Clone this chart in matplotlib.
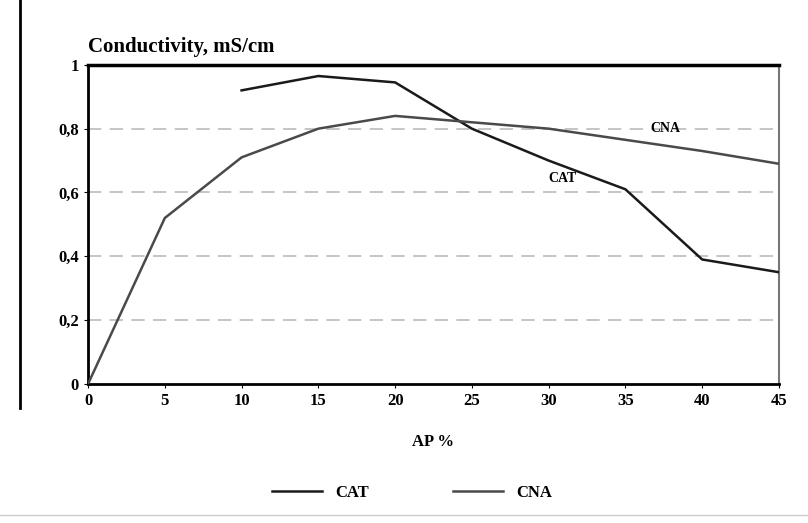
import matplotlib
matplotlib.use("Agg")
import matplotlib.pyplot as plt
from matplotlib.lines import Line2D

plt.rcParams['font.family'] = ['Liberation Serif', 'DejaVu Serif']

# data
x_cna = [0, 5, 10, 15, 20, 25, 30, 35, 40, 45]
y_cna = [0, 0.52, 0.71, 0.80, 0.84, 0.82, 0.80, 0.765, 0.73, 0.69]
x_cat = [10, 15, 20, 25, 30, 35, 40, 45]
y_cat = [0.92, 0.965, 0.945, 0.80, 0.70, 0.61, 0.39, 0.35]

xticks = [0, 5, 10, 15, 20, 25, 30, 35, 40, 45]
yticks = [0, 0.2, 0.4, 0.6, 0.8, 1]
ytick_labels = ['0', '0,2', '0,4', '0,6', '0,8', '1']

fig = plt.figure(figsize=(8.08, 5.23), dpi=100)
ax = fig.add_axes([0.109, 0.266, 0.855, 0.61])

for yv in yticks[1:-1]:
    ax.axhline(yv, color='#bbbbbb', lw=1.2, ls=(0, (8, 5)), zorder=1)

l_cat, = ax.plot(x_cat, y_cat, color='#1a1a1a', lw=1.8, zorder=3)
l_cna, = ax.plot(x_cna, y_cna, color='#4a4a4a', lw=1.8, zorder=3)

ax.text(37.6, 0.80, 'CNA', fontsize=10, fontweight='bold', ha='center', va='center', zorder=4)
ax.text(30.9, 0.645, 'CAT', fontsize=10, fontweight='bold', ha='center', va='center', zorder=4)

ax.set_xlim(0, 45)
ax.set_ylim(0, 1)
ax.set_xticks(xticks)
ax.set_yticks(yticks)
ax.set_yticklabels(ytick_labels)
ax.tick_params(labelsize=12, length=3, direction='out')
for lab in ax.get_xticklabels() + ax.get_yticklabels():
    lab.set_fontweight('bold')

for side in ['left', 'bottom']:
    ax.spines[side].set_color('black')
    ax.spines[side].set_linewidth(2)
ax.spines['top'].set_color('black')
ax.spines['top'].set_linewidth(2.5)
ax.spines['right'].set_color('#777777')
ax.spines['right'].set_linewidth(1.5)

ax.set_xlabel('AP %', fontsize=12, fontweight='bold', labelpad=18)
ax.text(0, 1.025, 'Conductivity, mS/cm', transform=ax.transAxes,
        fontsize=15, fontweight='bold', ha='left', va='bottom')

fig.legend([l_cat, l_cna], ['CAT', 'CNA'], loc='center', ncol=2,
           bbox_to_anchor=(0.51, 0.057), frameon=False,
           prop={'size': 12, 'weight': 'bold'},
           handlelength=3, columnspacing=5)

# outer border pieces of the original figure
fig.add_artist(Line2D([0.025, 0.025], [0.22, 1.0], color='black', lw=2,
                      transform=fig.transFigure))
fig.add_artist(Line2D([0.0, 1.0], [0.015, 0.015], color='#cccccc', lw=1,
                      transform=fig.transFigure))

fig.savefig('out.png', dpi=100)
